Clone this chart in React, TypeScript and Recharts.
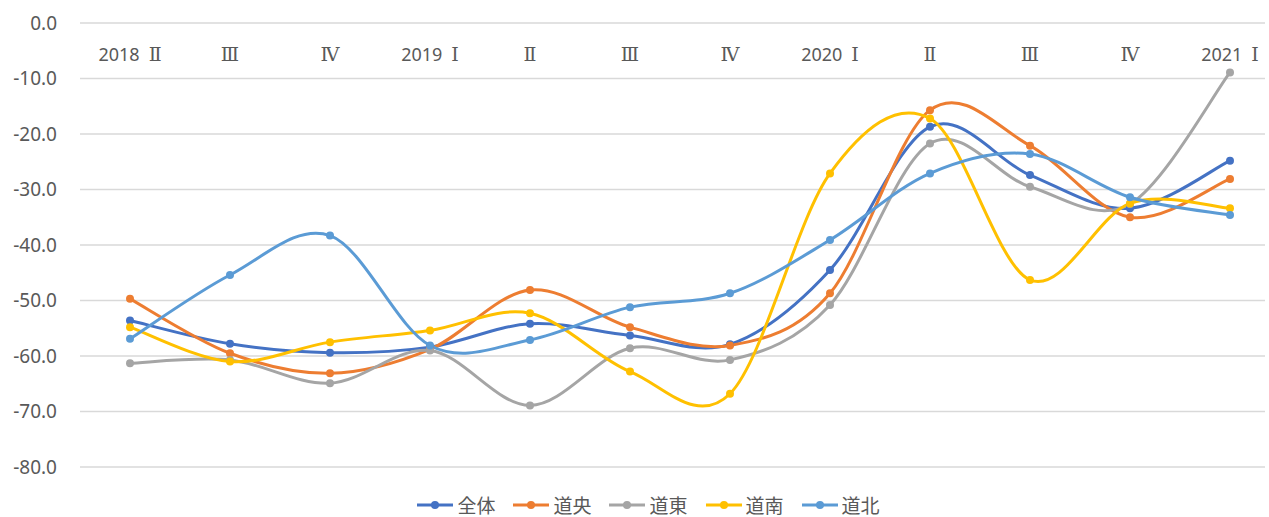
import React from "react";
import {
	LineChart,
	Line,
	XAxis,
	YAxis,
	CartesianGrid,
	Legend,
} from "recharts";

// quarter labels along the top
const quarters = [
	"2018 Ⅱ",
	"Ⅲ",
	"Ⅳ",
	"2019 Ⅰ",
	"Ⅱ",
	"Ⅲ",
	"Ⅳ",
	"2020 Ⅰ",
	"Ⅱ",
	"Ⅲ",
	"Ⅳ",
	"2021 Ⅰ",
];

const zentai = [-53.6, -57.8, -59.4, -58.4, -54.2, -56.3, -57.9, -44.5, -18.7, -27.4, -33.4, -24.8];
const douou = [-49.7, -59.5, -63.1, -58.8, -48.1, -54.8, -58.1, -48.7, -15.7, -22.1, -35.0, -28.1];
const doutou = [-61.3, -60.7, -64.9, -59.0, -68.9, -58.6, -60.7, -50.8, -21.7, -29.5, -32.6, -8.9];
const dounan = [-54.8, -61.0, -57.5, -55.4, -52.3, -62.8, -66.8, -27.1, -17.2, -46.3, -32.5, -33.4];
const douhoku = [-56.9, -45.4, -38.3, -58.1, -57.1, -51.2, -48.7, -39.1, -27.1, -23.6, -31.4, -34.6];

const yTicks = [0, -10, -20, -30, -40, -50, -60, -70, -80];

const series = [
	{ key: "全体", values: zentai, color: "#4472C4" },
	{ key: "道央", values: douou, color: "#ED7D31" },
	{ key: "道東", values: doutou, color: "#A5A5A5" },
	{ key: "道南", values: dounan, color: "#FFC000" },
	{ key: "道北", values: douhoku, color: "#5B9BD5" },
];

const data = quarters.map((q, i) => {
	const row: Record<string, string | number> = { q };
	series.forEach((s) => {
		row[s.key] = s.values[i];
	});
	return row;
});

// Excel style smoothing (catmull-rom bezier)
const excelCurve = (context: any) => {
	let pts: number[][] = [];
	return {
		areaStart() {},
		areaEnd() {},
		lineStart() {
			pts = [];
		},
		point(x: number, y: number) {
			pts.push([+x, +y]);
		},
		lineEnd() {
			if (!pts.length) return;
			context.moveTo(pts[0][0], pts[0][1]);
			for (let i = 0; i < pts.length - 1; i++) {
				const p0 = pts[Math.max(i - 1, 0)];
				const p1 = pts[i];
				const p2 = pts[i + 1];
				const p3 = pts[Math.min(i + 2, pts.length - 1)];
				context.bezierCurveTo(
					p1[0] + (p2[0] - p0[0]) / 6,
					p1[1] + (p2[1] - p0[1]) / 6,
					p2[0] - (p3[0] - p1[0]) / 6,
					p2[1] - (p3[1] - p1[1]) / 6,
					p2[0],
					p2[1],
				);
			}
		},
	};
};

const font = '"Noto Sans", "Noto Sans CJK JP", sans-serif';
const serif = '"DejaVu Serif", "Liberation Serif", serif';

function QuarterTick(props: any) {
	const { x, y, payload } = props;
	const parts = String(payload.value).split(" ");
	const year = parts.length > 1 ? parts[0] : "";
	const num = parts[parts.length - 1];
	return (
		<text
			x={x}
			y={y + 46}
			textAnchor="middle"
			fontSize={18}
			fill="#595959"
			fontFamily={font}
		>
			{year && <tspan>{year}</tspan>}
			<tspan fontFamily={serif} fontSize={19} dx={year ? 9 : 0}>
				{num}
			</tspan>
		</text>
	);
}

function LegendContent() {
	return (
		<div
			style={{
				display: "flex",
				justifyContent: "center",
				alignItems: "center",
				height: 24,
				paddingLeft: 32,
				fontFamily: font,
				fontSize: 19,
				color: "#595959",
			}}
		>
			{series.map((s) => (
				<div
					key={s.key}
					style={{ display: "flex", alignItems: "center", margin: "0 9px" }}
				>
					<svg width={36} height={12} style={{ marginRight: 4 }}>
						<line x1={0} y1={6} x2={36} y2={6} stroke={s.color} strokeWidth={3} />
						<circle cx={18} cy={6} r={4} fill={s.color} />
					</svg>
					<span>{s.key}</span>
				</div>
			))}
		</div>
	);
}

export default function App() {
	return (
		<div style={{ position: "absolute", left: 0, top: 0, background: "#fff" }}>
			<LineChart
				width={1269}
				height={517}
				data={data}
				margin={{ top: 3, right: 4, bottom: 26, left: 0 }}
			>
				<CartesianGrid vertical={false} stroke="#D9D9D9" strokeWidth={1.5} />
				<XAxis
					dataKey="q"
					orientation="top"
					height={20}
					axisLine={false}
					tickLine={false}
					interval={0}
					padding={{ left: 50, right: 35 }}
					tick={<QuarterTick />}
				/>
				<YAxis
					domain={[-80, 0]}
					ticks={yTicks}
					width={80}
					axisLine={false}
					tickLine={false}
					tickSize={0}
					tickMargin={23}
					tickFormatter={(v: number) => v.toFixed(1)}
					tick={{ fontSize: 19, fill: "#595959", fontFamily: font }}
				/>
				<Legend
					verticalAlign="bottom"
					content={<LegendContent />}
					wrapperStyle={{ bottom: 0 }}
				/>
				{series.map((s) => (
					<Line
						key={s.key}
						dataKey={s.key}
						type={excelCurve as any}
						stroke={s.color}
						strokeWidth={3}
						dot={{ r: 4, fill: s.color, stroke: s.color, strokeWidth: 0 }}
						isAnimationActive={false}
					/>
				))}
			</LineChart>
		</div>
	);
}
